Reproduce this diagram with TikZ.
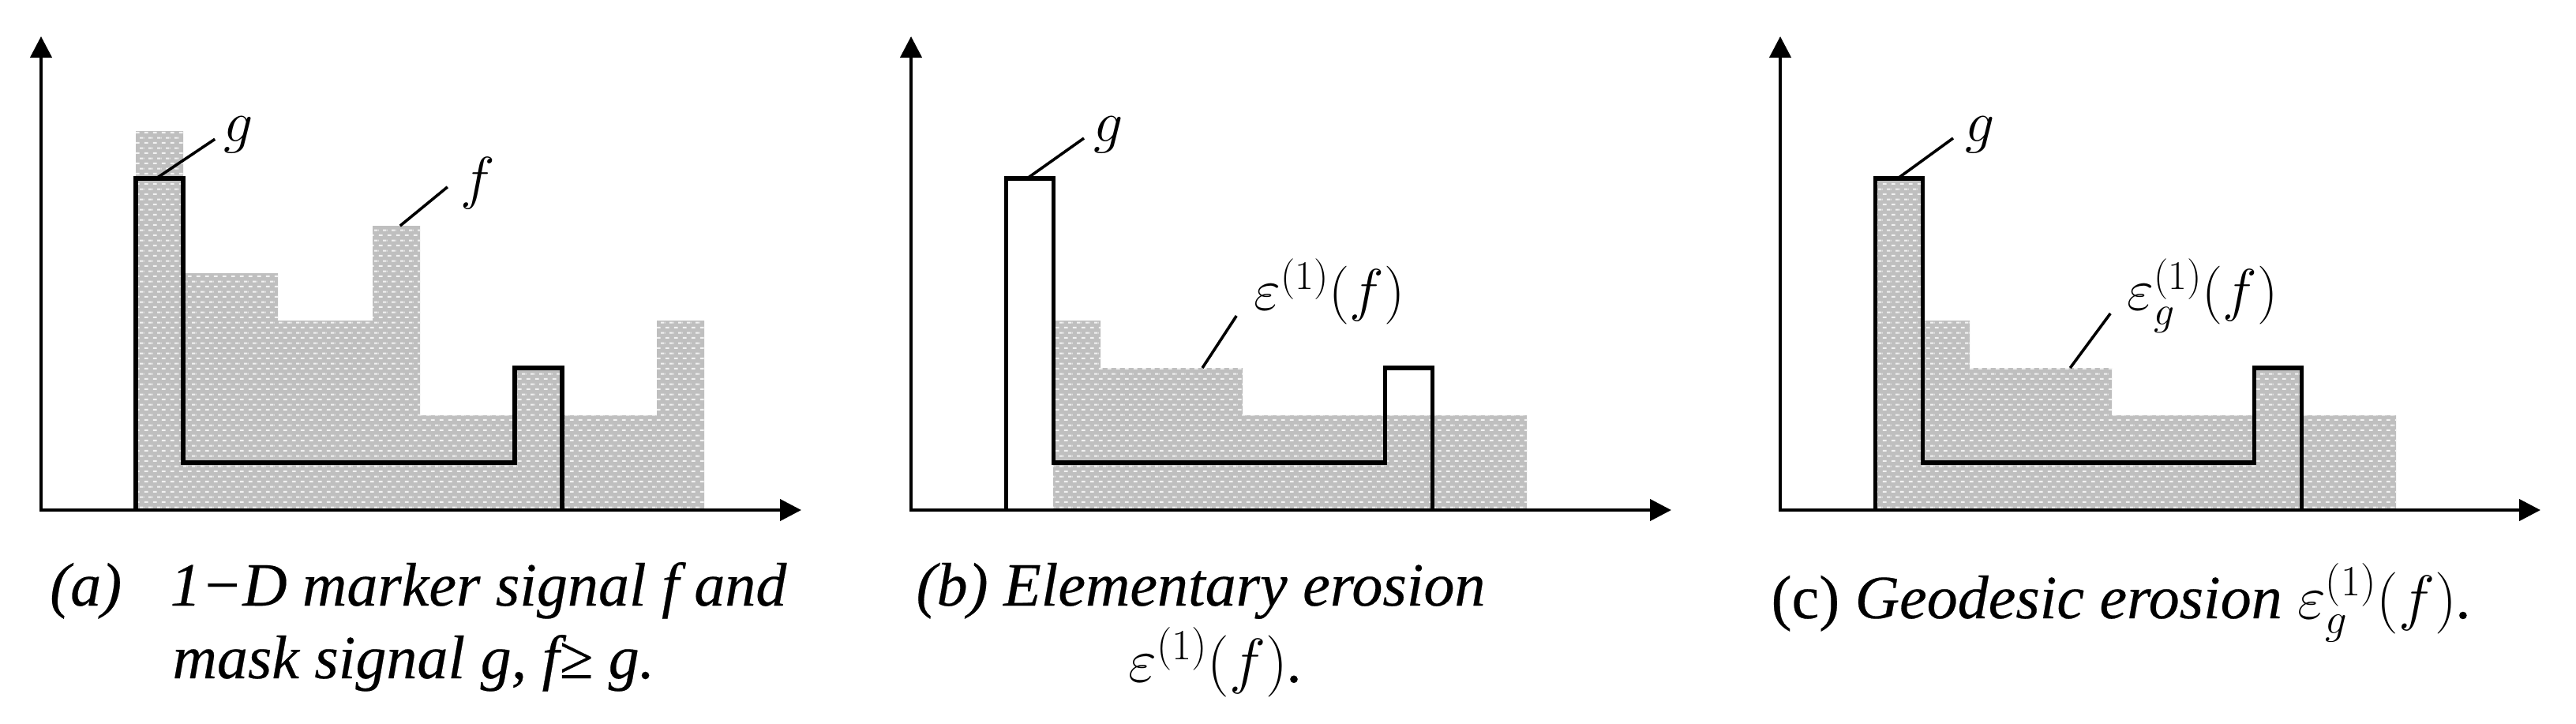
\RequirePackage{fix-cm}
\documentclass[tikz,border=0pt]{standalone}
\usepackage{fontspec}
\newfontfamily\capfont[FakeBold=0.3]{Liberation Serif}
\usetikzlibrary{arrows.meta,patterns.meta}
\pgfdeclarepattern{
  name=dashbrick,
  type=uncolored,
  bottom left={\pgfpoint{0pt}{0pt}},
  top right={\pgfpoint{5.07pt}{6pt}},
  tile size={\pgfpoint{5.07pt}{6pt}},
  code={
    \pgfpathrectangle{\pgfpoint{0.4pt}{0.6pt}}{\pgfpoint{2.4pt}{0.95pt}}
    \pgfpathrectangle{\pgfpoint{2.93pt}{3.6pt}}{\pgfpoint{2.14pt}{0.95pt}}
    \pgfpathrectangle{\pgfpoint{0pt}{3.6pt}}{\pgfpoint{0.26pt}{0.95pt}}
    \pgfusepath{fill}
  }
}
\tikzset{
  axisline/.style={line width=2.05pt, line cap=rect, -{Triangle[length=0.45cm,width=0.45cm]}},
  gline/.style={line width=2.4pt, line join=miter},
  leader/.style={line width=1.7pt},
  sigfill/.style={fill=black!25, postaction={pattern=dashbrick, pattern color=white!95!black}},
  lab/.style={inner sep=0pt, anchor=base west, font=\fontsize{35}{40}\selectfont},
  captext/.style={inner sep=0pt, font=\capfont\fontsize{37}{44}\selectfont\itshape},
}
\begin{document}
\begin{tikzpicture}
\useasboundingbox (-0.8667,-4.5) rectangle (53.517,10.767);
% ---------------- panel (a)
\begin{scope}
\fill[sigfill] (2,0) -- (2,8) -- (3,8) -- (3,5) -- (5,5) -- (5,4) -- (7,4) -- (7,6) -- (8,6) -- (8,2) -- (10,2) -- (10,3) -- (11,3) -- (11,2) -- (13,2) -- (13,4) -- (14,4) -- (14,0) -- cycle;
\draw[gline] (2,0) -- (2,7) -- (3,7) -- (3,1) -- (10,1) -- (10,3) -- (11,3) -- (11,0);
\coordinate (oa) at (0,0); \coordinate (xa) at (16.05,0); \coordinate (ya) at (0,10);
\draw[axisline] (oa) -- (xa);
\draw[axisline] (oa) -- (ya);
\coordinate (ga1) at (2.43,7); \coordinate (ga2) at (3.67,7.83);
\draw[leader] (ga1) -- (ga2);
\node[lab] (gla) at (3.85,7.77) {$g$};
\coordinate (fa1) at (7.58,6); \coordinate (fa2) at (8.58,6.82);
\draw[leader] (fa1) -- (fa2);
\node[lab] (fla) at (8.85,6.6) {$f$};
\end{scope}
% ---------------- panel (b)
\begin{scope}[xshift=18.367cm]
\fill[sigfill] (3,0) -- (3,4) -- (4,4) -- (4,3) -- (7,3) -- (7,2) -- (13,2) -- (13,0) -- cycle;
\draw[gline] (2,0) -- (2,7) -- (3,7) -- (3,1) -- (10,1) -- (10,3) -- (11,3) -- (11,0);
\coordinate (ob) at (0,0); \coordinate (xb) at (16.05,0); \coordinate (yb) at (0,10);
\draw[axisline] (ob) -- (xb);
\draw[axisline] (ob) -- (yb);
\coordinate (gb1) at (2.45,7); \coordinate (gb2) at (3.65,7.85);
\draw[leader] (gb1) -- (gb2);
\node[lab] (glb) at (3.85,7.77) {$g$};
\coordinate (eb1) at (6.15,3); \coordinate (eb2) at (6.87,4.1);
\draw[leader] (eb1) -- (eb2);
\node[lab] (elb) at (7.23,4.22) {$\varepsilon^{(1)}(f)$};
\end{scope}
% ---------------- panel (c)
\begin{scope}[xshift=36.717cm]
\fill[sigfill] (2,0) -- (2,7) -- (3,7) -- (3,4) -- (4,4) -- (4,3) -- (7,3) -- (7,2) -- (10,2) -- (10,3) -- (11,3) -- (11,2) -- (13,2) -- (13,0) -- cycle;
\draw[gline] (2,0) -- (2,7) -- (3,7) -- (3,1) -- (10,1) -- (10,3) -- (11,3) -- (11,0);
\coordinate (oc) at (0,0); \coordinate (xc) at (16.05,0); \coordinate (yc) at (0,10);
\draw[axisline] (oc) -- (xc);
\draw[axisline] (oc) -- (yc);
\coordinate (gc1) at (2.48,7); \coordinate (gc2) at (3.65,7.85);
\draw[leader] (gc1) -- (gc2);
\node[lab] (glc) at (3.9,7.77) {$g$};
\coordinate (ec1) at (6.12,3); \coordinate (ec2) at (6.97,4.15);
\draw[leader] (ec1) -- (ec2);
\node[lab] (elc) at (7.32,4.22) {$\varepsilon_g^{(1)}(f)$};
\end{scope}
% ---------------- captions
\node[captext, anchor=base west] (capa1) at (0.18,-2.017) {(a)};
\node[captext, anchor=base west] (capa2) at (2.72,-2.017) {1−D marker signal f and};
\node[captext, anchor=base west] (capa3) at (2.77,-3.55) {mask signal g, f≥ g.};
\node[captext, anchor=base west] (capb1) at (18.47,-2.017) {(b) Elementary erosion};
\node[captext, anchor=base] (capb2) at (24.8,-3.63) {$\varepsilon^{(1)}(f)$.};
\node[captext, anchor=base west] (capc1) at (36.52,-2.283) {{\upshape(c)} Geodesic erosion $\varepsilon_g^{(1)}(f)$.};
\end{tikzpicture}
\end{document}
